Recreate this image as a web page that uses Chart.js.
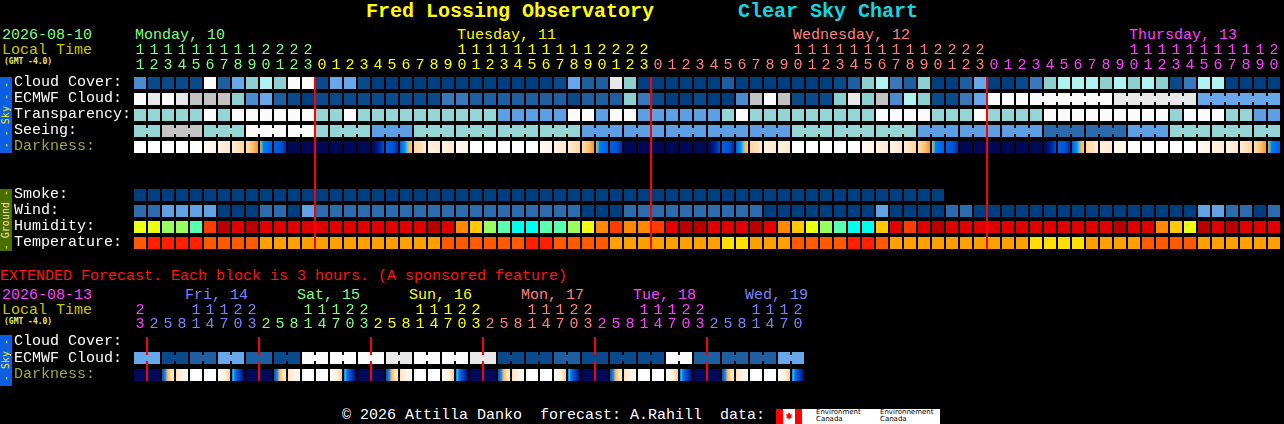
<!DOCTYPE html>
<html>
<head>
<meta charset="utf-8">
<script src="https://cdn.jsdelivr.net/npm/chart.js@4.4.1/dist/chart.umd.min.js"></script>
<style>
html, body { margin: 0; padding: 0; background: #000; }
#page { position: relative; width: 1284px; height: 424px; overflow: hidden; background: #000; font-family: 'Liberation Mono', monospace; }
.t { position: absolute; font-size: 15px; line-height: 16px; white-space: pre; }
.tiny { position: absolute; font: bold 8px/8px 'DejaVu Sans Mono', monospace; white-space: pre; color: #e8e870; }
.band { position: absolute; left: 0; width: 12px; display: flex; align-items: center; justify-content: center; }
.band span { writing-mode: vertical-rl; transform: rotate(180deg); font: 10px/12px 'DejaVu Sans Mono', monospace; white-space: pre; }
.cv { position: absolute; left: 0; }
</style>
</head>
<body>
<div id="page">
  <div class="t" style="left:366px;top:2px;font:bold 20px/20px 'Liberation Mono',monospace;color:#ffff00">Fred Lossing Observatory</div>
  <div class="t" style="left:738px;top:2px;font:bold 20px/20px 'Liberation Mono',monospace;color:#10d8e0">Clear Sky Chart</div>

  <div class="t" style="left:2px;top:28px;color:#80ff80">2026-08-10</div>
  <div class="t" style="left:2px;top:43px;color:#c8c800">Local Time</div>
  <div class="tiny" style="left:4px;top:58px">(GMT -4.0)</div>
  <div class="t" style="left:135px;top:28px;color:#80ff80">Monday, 10</div>
  <div class="t" style="left:457px;top:28px;color:#ffff00">Tuesday, 11</div>
  <div class="t" style="left:793px;top:28px;color:#ff8080">Wednesday, 12</div>
  <div class="t" style="left:1129px;top:28px;color:#ff40ff">Thursday, 13</div>

  <div class="band" style="top:77px;height:76px;background:#0d5ee0"><span style="color:#f0f000">- - Sky - -</span></div>
  <div class="band" style="top:189px;height:62px;background:#4c6e00"><span style="color:#e8e8c0">- Ground -</span></div>

  <div class="t" style="left:0px;top:269px;color:#ff1414">EXTENDED Forecast. Each block is 3 hours. (A sponsored feature)</div>
  <div class="t" style="left:2px;top:288px;color:#ff40ff">2026-08-13</div>
  <div class="t" style="left:2px;top:303px;color:#c8c800">Local Time</div>
  <div class="tiny" style="left:4px;top:318px">(GMT -4.0)</div>
  <div class="t" style="left:185px;top:288px;color:#8080ff">Fri, 14</div>
  <div class="t" style="left:297px;top:288px;color:#80ff80">Sat, 15</div>
  <div class="t" style="left:409px;top:288px;color:#ffff00">Sun, 16</div>
  <div class="t" style="left:521px;top:288px;color:#ff8080">Mon, 17</div>
  <div class="t" style="left:633px;top:288px;color:#ff40ff">Tue, 18</div>
  <div class="t" style="left:745px;top:288px;color:#8080ff">Wed, 19</div>
  <div class="band" style="top:335px;height:51px;background:#0d5ee0"><span style="color:#f0f000">- Sky -</span></div>

  <div class="t" style="left:342px;top:408px;color:#ffffff">© 2026 Attilla Danko  forecast: A.Rahill  data:</div>
  <div style="position:absolute;left:776px;top:409px;width:164px;height:15px;background:#fff">
    <div style="position:absolute;left:0;top:0;width:7px;height:15px;background:#ff0000"></div>
    <div style="position:absolute;left:19px;top:0;width:7px;height:15px;background:#ff0000"></div>
    <div style="position:absolute;left:10px;top:3px;width:6px;height:8px;background:#ff0000;clip-path:polygon(50% 0,70% 30%,100% 25%,85% 60%,100% 75%,55% 80%,55% 100%,45% 100%,45% 80%,0 75%,15% 60%,0 25%,30% 30%)"></div>
    <div style="position:absolute;left:40px;top:0;font:7px/7px 'DejaVu Sans',sans-serif;color:#000">Environment<br>Canada</div>
    <div style="position:absolute;left:104px;top:0;font:7px/7px 'DejaVu Sans',sans-serif;color:#000">Environnement<br>Canada</div>
  </div>

  <canvas id="hourly" class="cv" style="top:0" width="1281" height="249"></canvas>
  <canvas id="extended" class="cv" style="top:280px" width="805" height="101"></canvas>
</div>

<script>
// ===== HOURLY FORECAST (Mon 10 11h .. Thu 13 20h) =====
const hours = [11,12,13,14,15,16,17,18,19,20,21,22,23,
  0,1,2,3,4,5,6,7,8,9,10,11,12,13,14,15,16,17,18,19,20,21,22,23,
  0,1,2,3,4,5,6,7,8,9,10,11,12,13,14,15,16,17,18,19,20,21,22,23,
  0,1,2,3,4,5,6,7,8,9,10,11,12,13,14,15,16,17,18,19,20];
const dayColors = ["#80ff80", "#ffff00", "#ff8080", "#ff40ff"];

// cloud cover, 0 = clear .. 10 = overcast
const cloudCover = [4,1,1,1,1,10,2,5,6,7,6,10,10,
  1,5,5,1,0,0,0,0,0,0,0,0,0,0,0,0,0,1,5,2,2,9,6,0,
  0,0,0,0,0,2,0,0,0,0,0,0,0,1,2,6,7,3,2,6,0,0,2,5,
  0,0,1,3,6,7,7,7,6,7,6,7,6,1,3,7,7,0,0,0,0];
const ecmwfCloud = [10,9,10,9,8,8,8,6,4,5,2,1,0,
  1,1,1,1,1,1,1,1,1,3,3,2,2,2,2,2,2,2,1,2,2,2,6,3,
  1,0,0,1,0,0,4,8,10,8,1,1,1,6,9,6,8,4,7,6,1,1,3,5,
  10,10,10,10,10,10,10,10,10,9,9,9,9,9,9,5,5,5,5,5,5];
const transparency = [3,3,3,3,3,5,3,5,5,5,5,5,5,
  3,3,5,3,3,3,3,3,3,3,3,3,3,2,2,2,2,2,5,5,2,5,5,2,
  2,2,2,2,2,3,5,3,3,3,3,3,3,3,3,3,5,5,5,5,3,3,3,5,
  3,3,3,3,5,5,5,5,5,5,5,5,5,3,5,5,5,3,3,2,2];
const seeing = [2,2,0,0,0,2,2,2,1,1,1,1,1,
  2,2,2,2,3,3,3,2,2,2,2,2,2,2,2,2,2,2,2,3,3,3,3,3,
  3,3,3,3,3,3,3,3,3,3,2,2,2,2,2,2,2,2,2,3,3,3,3,3,
  3,3,3,3,4,4,4,4,4,4,3,3,3,2,2,2,2,2,2,2,2];
const darkness = ["W","W","W","W","W","CW","C","P","O","S","B","N","N",
  "N","N","N","N","NB","B","R","PR","C","C","CW","W","W","W","W","W","CW","C","P","O","S","B","N","N",
  "N","N","N","N","NB","B","R","PR","C","C","W","W","W","W","W","CW","C","C","P","O","S","B","N","N",
  "N","N","N","N","NB","B","R","PR","C","CW","W","W","W","W","W","CW","C","C","P","O","S"];
const smoke = [0,0,0,0,0,0,0,0,0,0,0,0,0,
  0,0,0,0,0,0,0,0,0,0,0,0,0,0,0,0,0,0,0,0,0,0,0,0,
  0,0,0,0,0,0,0,0,0,0,0,0,0,0,0,0,0,0,0,0,0,null,null,null,
  null,null,null,null,null,null,null,null,null,null,null,null,null,null,null,null,null,null,null,null,null];
const wind = [1,1,2,2,2,2,0,0,0,1,1,0,2,
  1,1,1,1,1,1,1,1,1,1,1,1,1,1,1,1,1,1,1,0,0,0,1,1,
  1,1,1,1,1,1,1,1,0,0,0,0,0,0,0,0,2,0,0,0,0,1,1,0,
  0,0,0,0,0,0,0,0,0,0,0,0,0,0,0,2,2,1,1,0,1];
const humidity = [3,3,2,2,1,6,8,7,8,7,7,7,7,
  7,7,7,7,7,7,7,7,8,7,5,4,2,1,0,0,1,1,2,3,5,6,5,5,
  6,7,8,8,7,7,7,8,7,5,4,3,2,1,0,0,4,7,6,7,8,7,7,7,
  7,7,7,7,7,7,7,7,7,8,7,7,5,4,3,8,7,8,7,7,7];
const temperature = [2,3,3,3,3,2,2,2,2,1,1,1,1,
  1,1,1,1,1,1,1,1,1,2,2,2,2,2,2,3,3,2,2,2,2,1,1,1,
  1,1,1,1,1,0,0,1,1,1,2,2,2,2,3,3,2,1,1,1,1,1,1,1,
  1,1,1,0,0,0,0,1,1,1,1,2,2,2,2,1,1,1,1,1,1];
// ECMWF switches to 6-hour blocks on Thursday
const ecmwfBlocks = [[64,69],[70,75],[76,81]];

// ===== EXTENDED FORECAST (3-hour blocks, Thu 13 23h .. Wed 19 20h) =====
const extHours = [23,
  2,5,8,11,14,17,20,23, 2,5,8,11,14,17,20,23, 2,5,8,11,14,17,20,23,
  2,5,8,11,14,17,20,23, 2,5,8,11,14,17,20,23, 2,5,8,11,14,17,20];
const extDayColors = ["#ff40ff", "#8080ff", "#80ff80", "#ffff00", "#ff8080", "#ff40ff", "#8080ff"];
const extEcmwf = [5,5,1,1,2,2,5,5,2,2,1,1,10,10,10,10,10,10,9,9,10,10,10,10,
  9,9,1,1,1,1,2,2,1,1,1,1,1,1,10,10,2,2,2,2,2,2,5,5];
const extDarkness = ["N","N",
  "XSR","XPW","W","W","XWP","XSS","N","N",
  "XSR","XPW","W","W","XWP","XSS","N","N",
  "XSR","XPW","W","W","XWP","XSS","N","N",
  "XSR","XPW","W","W","XWP","XSS","N","N",
  "XSR","XPW","W","W","XWP","XSS","N","N",
  "XSR","XPW","W","W","XWP","XSS"];

// ===== PALETTES =====
const cloudPalette = ["#003f7f","#0a4a8a","#1f5fa0","#3878bb","#4b8bd0","#68a8ea","#8ecfcf","#b0f2f2","#c2c2c2","#e8e8e8","#fbfbfb"];
const transPalette = ["#003f7f","#2c6cac","#5e9ee2","#95d5d5","#c8c8c8","#fbfbfb"];
const seeingPalette = ["#c4c4c4","#fbfbfb","#95d5d5","#5e9ee2","#2d6aac","#003f7f"];
const smokePalette = ["#003f7f"];
const windPalette = ["#003f7f","#2c6cac","#60a2e4"];
const humidityPalette = ["#00ffee","#58ffb0","#98ff60","#eaff12","#ffc800","#ff8800","#ff3c00","#e00000","#b80000"];
const tempPalette = ["#ffdf00","#ffa000","#ff5a00","#ff2000"];
const darkStops = {
    W:  [[0, "#ffffff"]],
    CW: [[0, "#fffaf2"], [1, "#fff3e4"]],
    C:  [[0, "#fff2e0"], [1, "#ffe9d0"]],
    P:  [[0, "#ffecd4"], [1, "#ffd49c"]],
    PR: [[0, "#ffd49c"], [1, "#ffecd6"]],
    O:  [[0, "#ffe0b4"], [0.5, "#ffc478"], [1, "#f79a20"]],
    S:  [[0, "#f0a030"], [0.12, "#30c8ff"], [0.3, "#0a78f0"], [1, "#0060e0"]],
    B:  [[0, "#0064e4"], [0.6, "#0052d0"], [1, "#0a2a9a"]],
    N:  [[0, "#000858"]],
    NB: [[0, "#000a5c"], [0.5, "#001a90"], [1, "#0050d0"]],
    R:  [[0, "#0060e0"], [0.4, "#1090f0"], [0.55, "#20c0ff"], [0.65, "#ffa030"], [1, "#ffc878"]],
    XSR: [[0, "#0050d0"], [0.3, "#1a90f0"], [0.4, "#ffa030"], [0.65, "#ffd8a8"], [1, "#fff0e0"]],
    XPW: [[0, "#ffe4c4"], [1, "#ffffff"]],
    XWP: [[0, "#ffffff"], [0.6, "#fff0dc"], [1, "#ffc888"]],
    XSS: [[0, "#0060e0"], [0.1, "#20d0ff"], [0.25, "#0a70ea"], [0.6, "#0040c0"], [1, "#000a70"]]
};

// ===== helpers =====
const CELL = 12;

function dayIndex(cols) {
    const out = [];
    let d = 0;
    cols.forEach((h, k) => {
        if (k > 0 && h < cols[k - 1]) d++;
        out.push(d);
    });
    return out;
}

function cells(values, palette, top) {
    return values
        .map((v, k) => v === null ? null : { x: k + 0.5, y: [top, top + CELL], c: palette ? palette[v] : null, code: v })
        .filter(p => p);
}

// the little bridges between hours that share one forecast value
function bridges(values, palette, top, joined) {
    const out = [];
    for (let k = 0; k < values.length - 1; k++) {
        if (values[k] !== null && values[k] === values[k + 1] && joined(k)) {
            out.push({ x: k + 1, y: [top + 3, top + CELL - 3], c: palette[values[k]] });
        }
    }
    return out;
}

function solid(data) {
    return { data, barThickness: CELL, backgroundColor: ctx => ctx.raw ? ctx.raw.c : "rgba(0,0,0,0)" };
}
function bridge(data) {
    return { data, barThickness: 4, backgroundColor: ctx => ctx.raw ? ctx.raw.c : "rgba(0,0,0,0)" };
}
function shaded(data) {
    return {
        data, barThickness: CELL,
        backgroundColor: ctx => {
            if (!ctx.raw) return "rgba(0,0,0,0)";
            const stops = darkStops[ctx.raw.code];
            if (stops.length === 1) return stops[0][1];
            const cx = ctx.chart.scales.x.getPixelForValue(ctx.raw.x);
            const g = ctx.chart.ctx.createLinearGradient(cx - CELL / 2, 0, cx + CELL / 2, 0);
            stops.forEach(s => g.addColorStop(s[0], s[1]));
            return g;
        }
    };
}

function makeChart(id, cfg) {
    const days = dayIndex(cfg.cols);
    return new Chart(document.getElementById(id), {
        type: "bar",
        data: { datasets: cfg.datasets },
        options: {
            responsive: false,
            animation: false,
            devicePixelRatio: 1,
            layout: { padding: { left: 14, top: 0, right: 0, bottom: 0 } },
            datasets: { bar: { grouped: false, inflateAmount: 0, borderWidth: 0 } },
            plugins: { legend: { display: false }, tooltip: { enabled: false } },
            scales: {
                x: {
                    type: "linear", position: "top", min: 0, max: cfg.cols.length,
                    offset: false, bounds: "data",
                    afterBuildTicks: s => { s.ticks = cfg.cols.map((h, k) => ({ value: k + 0.5 })); },
                    afterFit: s => {
                        s.height = cfg.axisHeight;
                        s.paddingLeft = 0;
                        s.paddingRight = 0;
                    },
                    ticks: {
                        autoSkip: false, maxRotation: 0, minRotation: 0, padding: cfg.tickPad,
                        font: { family: "'Liberation Mono', monospace", size: 15, lineHeight: cfg.lineHeight + "px" },
                        color: ctx => cfg.dayColors[days[ctx.index]] || "#ffffff",
                        callback: (v, i) => {
                            const h = cfg.cols[i];
                            return [h >= 10 ? String(Math.floor(h / 10)) : " ", String(h % 10)];
                        }
                    },
                    grid: {
                        offset: true, drawTicks: false, lineWidth: 2,
                        color: ctx => (ctx.index > 0 && days[ctx.index] !== days[ctx.index - 1]) ? "#ff0000" : "rgba(0,0,0,0)"
                    },
                    border: { display: false }
                },
                y: {
                    type: "linear", reverse: true, min: 0, max: cfg.height, bounds: "data",
                    afterBuildTicks: s => { s.ticks = cfg.rows.map(r => ({ value: r.at })); },
                    afterFit: s => {
                        s.width = 119;
                        s.paddingTop = 0;
                        s.paddingBottom = 0;
                    },
                    ticks: {
                        autoSkip: false, crossAlign: "far", padding: 0,
                        font: { family: "'Liberation Mono', monospace", size: 15 },
                        color: ctx => cfg.rows[ctx.index] ? cfg.rows[ctx.index].color : "#ffffff",
                        callback: (v, i) => cfg.rows[i].text
                    },
                    grid: { display: false },
                    border: { display: false }
                }
            }
        }
    });
}

// ===== hourly chart =====
const slot = i => i * 16;
makeChart("hourly", {
    cols: hours,
    dayColors: dayColors,
    axisHeight: 77,
    tickPad: 4.5,
    lineHeight: 15,
    height: 172,
    rows: [
        { text: "Cloud Cover:", at: slot(0) + 5, color: "#ffffff" },
        { text: "ECMWF Cloud:", at: slot(1) + 5, color: "#ffffff" },
        { text: "Transparency:", at: slot(2) + 5, color: "#ffffff" },
        { text: "Seeing:", at: slot(3) + 5, color: "#ffffff" },
        { text: "Darkness:", at: slot(4) + 5, color: "#a4a448" },
        { text: "Smoke:", at: slot(7) + 5, color: "#ffffff" },
        { text: "Wind:", at: slot(8) + 5, color: "#ffffff" },
        { text: "Humidity:", at: slot(9) + 5, color: "#ffffff" },
        { text: "Temperature:", at: slot(10) + 5, color: "#ffffff" }
    ],
    datasets: [
        solid(cells(cloudCover, cloudPalette, slot(0))),
        solid(cells(ecmwfCloud, cloudPalette, slot(1))),
        bridge(bridges(ecmwfCloud, cloudPalette, slot(1), k => ecmwfBlocks.some(b => k >= b[0] && k < b[1]))),
        solid(cells(transparency, transPalette, slot(2))),
        solid(cells(seeing, seeingPalette, slot(3))),
        bridge(bridges(seeing, seeingPalette, slot(3), k => hours[k + 1] % 3 !== 1 && hours[k + 1] !== 0)),
        shaded(cells(darkness, null, slot(4))),
        solid(cells(smoke, smokePalette, slot(7))),
        solid(cells(wind, windPalette, slot(8))),
        solid(cells(humidity, humidityPalette, slot(9))),
        solid(cells(temperature, tempPalette, slot(10)))
    ]
});

// ===== extended chart =====
makeChart("extended", {
    cols: extHours,
    dayColors: extDayColors,
    axisHeight: 57,
    tickPad: 5.7,
    lineHeight: 14,
    height: 44,
    rows: [
        { text: "Cloud Cover:", at: 4, color: "#ffffff" },
        { text: "ECMWF Cloud:", at: 21, color: "#ffffff" },
        { text: "Darkness:", at: 37, color: "#a4a448" }
    ],
    datasets: [
        solid(cells(extEcmwf, cloudPalette, 15)),
        bridge(bridges(extEcmwf, cloudPalette, 15, j => j % 2 === 0)),
        shaded(cells(extDarkness, null, 32))
    ]
});
</script>
</body>
</html>
